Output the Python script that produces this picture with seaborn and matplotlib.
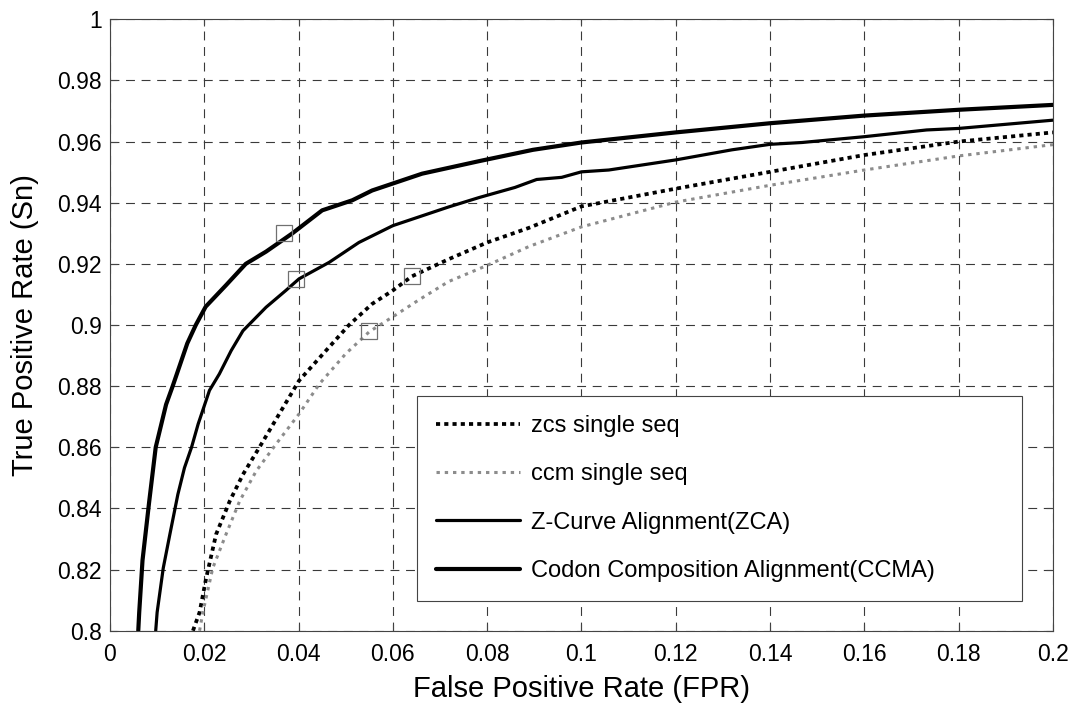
import numpy as np
import pandas as pd
import seaborn as sns
import matplotlib.pyplot as plt
from matplotlib.ticker import FuncFormatter

# ROC curves (FPR, TPR)
zcs_fpr = [0.0176, 0.019, 0.0204, 0.0225, 0.0254, 0.0282, 0.0317, 0.0359, 0.0401, 0.0458,
           0.0507, 0.0556, 0.060, 0.064, 0.0718, 0.080, 0.0889, 0.100, 0.120, 0.140,
           0.160, 0.180, 0.200]
zcs_tpr = [0.800, 0.806, 0.8172, 0.8315, 0.8424, 0.8511, 0.860, 0.8709, 0.8818, 0.8916,
           0.900, 0.9069, 0.9113, 0.9159, 0.9215, 0.927, 0.9318, 0.9388, 0.9446, 0.9501,
           0.9556, 0.960, 0.963]

ccm_fpr = [0.019, 0.0197, 0.0218, 0.0246, 0.0275, 0.031, 0.0352, 0.0401, 0.0444, 0.050,
           0.055, 0.060, 0.0655, 0.0718, 0.080, 0.0889, 0.100, 0.120, 0.140, 0.160,
           0.180, 0.200]
ccm_tpr = [0.800, 0.806, 0.8205, 0.8315, 0.8424, 0.8522, 0.861, 0.8709, 0.8807, 0.8906,
           0.8978, 0.9027, 0.9082, 0.9142, 0.9195, 0.9257, 0.9321, 0.9402, 0.9457, 0.9507,
           0.9553, 0.959]

zca_fpr = [0.0097, 0.0100, 0.0113, 0.0127, 0.0144, 0.0158, 0.0173, 0.0187, 0.0211, 0.0232,
           0.0257, 0.0282, 0.0303, 0.0331, 0.0373, 0.0401, 0.0465, 0.0528, 0.0600, 0.0718,
           0.0783, 0.0859, 0.0905, 0.0958, 0.100, 0.1058, 0.120, 0.1319, 0.140, 0.1468,
           0.160, 0.1732, 0.180, 0.200]
zca_tpr = [0.800, 0.806, 0.8205, 0.8315, 0.8446, 0.8533, 0.860, 0.8676, 0.8786, 0.884,
           0.8916, 0.8981, 0.9014, 0.9058, 0.9113, 0.9151, 0.9205, 0.927, 0.9325, 0.9386,
           0.9417, 0.9450, 0.9476, 0.9483, 0.9501, 0.9507, 0.9540, 0.9573, 0.9591, 0.9597,
           0.9616, 0.9638, 0.9643, 0.967]

ccma_fpr = [0.0060, 0.0062, 0.0069, 0.0083, 0.0097, 0.0119, 0.0133, 0.0164, 0.0182, 0.0203,
            0.0246, 0.0288, 0.0331, 0.0387, 0.0450, 0.0514, 0.0556, 0.0662, 0.0783, 0.0897,
            0.100, 0.120, 0.140, 0.160, 0.180, 0.200]
ccma_tpr = [0.800, 0.806, 0.823, 0.842, 0.860, 0.874, 0.880, 0.894, 0.900, 0.906,
            0.913, 0.920, 0.924, 0.930, 0.9375, 0.9408, 0.944, 0.9495, 0.9536, 0.9573,
            0.9597, 0.9630, 0.9660, 0.9685, 0.9704, 0.972]

# operating points marked with squares
mark_fpr = [0.037, 0.0395, 0.064, 0.055]
mark_tpr = [0.930, 0.915, 0.916, 0.898]

labels = ["zcs single seq", "ccm single seq",
          "Z-Curve Alignment(ZCA)", "Codon Composition Alignment(CCMA)"]

sns.set_theme(style="white")
plt.rcParams["font.family"] = ["Liberation Sans", "DejaVu Sans"]
plt.rcParams["text.color"] = "black"
plt.rcParams["axes.labelcolor"] = "black"
plt.rcParams["xtick.color"] = "black"
plt.rcParams["ytick.color"] = "black"

fig = plt.figure(figsize=(10.74, 7.04), dpi=100)
ax = fig.add_axes([0.1024, 0.1041, 0.878, 0.8685])

sns.lineplot(x=zcs_fpr, y=zcs_tpr, ax=ax, color="black", linewidth=2.7,
             linestyle=(0, (1.1, 1.1)), label=labels[0], sort=False, estimator=None)
sns.lineplot(x=ccm_fpr, y=ccm_tpr, ax=ax, color="#8c8c8c", linewidth=2.2,
             linestyle=(0, (1.1, 1.6)), label=labels[1], sort=False, estimator=None)
sns.lineplot(x=zca_fpr, y=zca_tpr, ax=ax, color="black", linewidth=2.3,
             label=labels[2], sort=False, estimator=None)
sns.lineplot(x=ccma_fpr, y=ccma_tpr, ax=ax, color="black", linewidth=3.0,
             label=labels[3], sort=False, estimator=None)
ax.plot(mark_fpr, mark_tpr, linestyle="none", marker="s", markersize=11,
        markerfacecolor="none", markeredgecolor="#707070", markeredgewidth=0.9)

ax.set_xlim(0, 0.2)
ax.set_ylim(0.8, 1.0)
ax.set_xticks(np.linspace(0, 0.2, 11))
ax.set_yticks(np.linspace(0.8, 1.0, 11))
fmt = FuncFormatter(lambda v, p: "%g" % round(v, 3))
ax.xaxis.set_major_formatter(fmt)
ax.yaxis.set_major_formatter(fmt)
ax.tick_params(axis="both", labelsize=16.5, direction="in", length=5, width=0.8,
               color="#444444", labelcolor="black",
               top=True, right=True, bottom=True, left=True)
ax.tick_params(axis="x", pad=9)
ax.tick_params(axis="y", pad=6)

ax.grid(True, color="#3a3a3a", linewidth=0.8, linestyle=(0, (8, 6)))
ax.set_axisbelow(True)
for s in ax.spines.values():
    s.set_color("#444444")
    s.set_linewidth(0.8)

ax.set_xlabel("False Positive Rate (FPR)", fontsize=21, labelpad=6)
ax.set_ylabel("True Positive Rate (Sn)", fontsize=21, labelpad=13)

leg = ax.legend(loc="lower left", bbox_to_anchor=(0.3256, 0.0486, 0.6414, 0.3353),
                mode="expand", fontsize=17, frameon=True, fancybox=False,
                borderpad=0.8, labelspacing=1.12, handlelength=3.55, handletextpad=0.47,
                borderaxespad=0)
leg.get_frame().set_edgecolor("#444444")
leg.get_frame().set_linewidth(0.8)
leg.get_frame().set_alpha(1)

fig.savefig("out.png", dpi=100)
